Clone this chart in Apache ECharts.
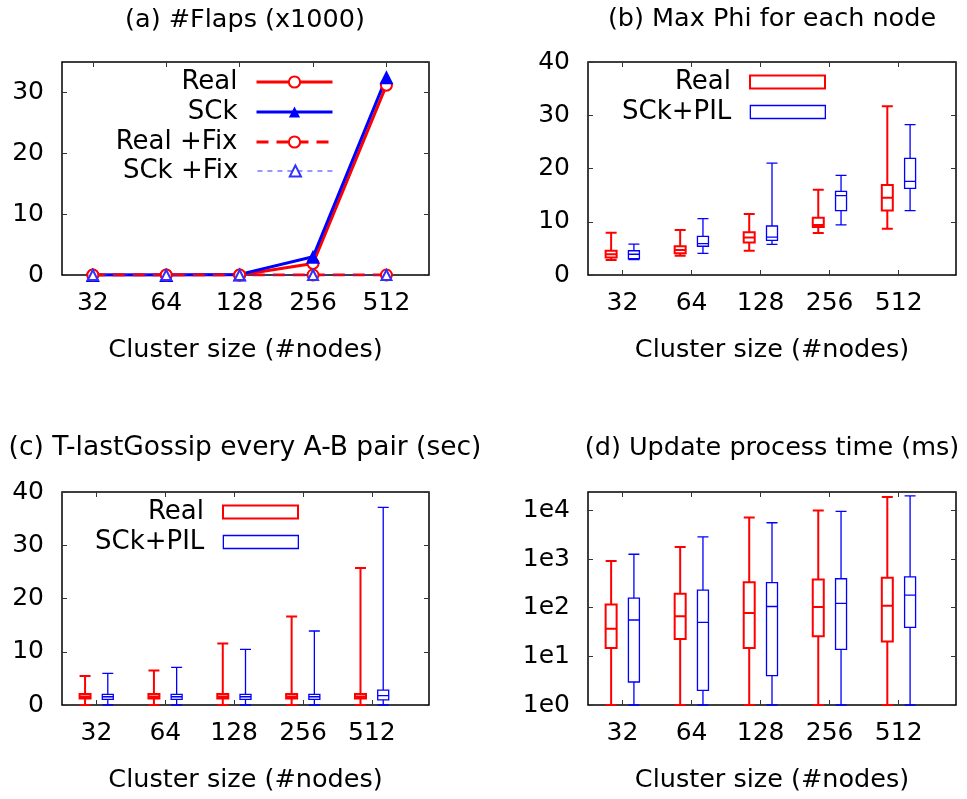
<!DOCTYPE html>
<html><head><meta charset="utf-8">
<script src="https://cdn.jsdelivr.net/npm/echarts@6/dist/echarts.min.js"></script>
<style>html,body{margin:0;padding:0;background:#fff}#c{width:967px;height:799px}</style>
</head><body><div id="c"></div>
<script>
// ---- data ----
const categories = ['32', '64', '128', '256', '512'];
// (a) #Flaps (x1000)
const flapsReal    = [0, 0, 0, 1.9, 31.2];
const flapsSCk     = [0, 0, 0.1, 3.0, 32.5];
const flapsRealFix = [0, 0, 0, 0, 0];
const flapsSCkFix  = [0, 0, 0, 0, 0];
// (b) Max Phi for each node  [min, Q1, median, Q3, max]
const phiReal = [[2.8, 3.3, 3.9, 4.55, 7.95], [3.6, 4.1, 4.7, 5.4, 8.45], [4.55, 6.1, 7.05, 8.05, 11.45], [7.9, 9.0, 9.4, 10.75, 16.0], [8.7, 12.1, 14.5, 16.9, 31.7]];
const phiSCk  = [[2.9, 3.05, 3.9, 4.55, 5.8], [4.05, 5.4, 5.9, 7.25, 10.6], [5.75, 6.5, 7.1, 9.2, 21.0], [9.4, 12.1, 14.9, 15.7, 18.7], [12.1, 16.25, 17.6, 21.9, 28.25]];
// (c) T-lastGossip every A-B pair (sec)
const gossipReal = [[0, 1.2, 1.6, 2.05, 5.45], [0, 1.2, 1.6, 2.05, 6.5], [0, 1.2, 1.6, 2.05, 11.55], [0, 1.2, 1.6, 2.05, 16.6], [0, 1.2, 1.6, 2.05, 25.75]];
const gossipSCk  = [[0, 1.05, 1.55, 2.0, 5.95], [0, 1.05, 1.55, 2.0, 7.05], [0, 1.05, 1.55, 2.0, 10.45], [0, 1.05, 1.55, 2.0, 13.9], [0, 0.95, 1.75, 2.8, 37.1]];
// (d) Update process time (ms)
const updReal = [[1, 14.8, 37, 117, 910], [1, 22.7, 67, 193, 1770], [1, 14.8, 78, 336, 7200], [1, 25.8, 103, 381, 10000], [1, 20.3, 110, 414, 19000]];
const updSCk  = [[1, 2.97, 56, 158, 1260], [1, 2.0, 50, 230, 2870], [1, 4.0, 106, 327, 5600], [1, 13.9, 123, 395, 9600], [1, 39.4, 182, 433, 20000]];
const titles = ['(a) #Flaps (x1000)', '(b) Max Phi for each node', '(c) T-lastGossip every A-B pair (sec)', '(d) Update process time (ms)'];
const xName = 'Cluster size (#nodes)';

// ---- style ----
const FONT = 'DejaVu Sans';
const RED = '#ff0000', BLUE = '#0000ff';
const TICKS = [0, 1, 2, 3, 4];
const grids = [
  {left: 62, top: 62, width: 367, height: 213},
  {left: 588, top: 62, width: 368, height: 213},
  {left: 62, top: 492, width: 367, height: 213},
  {left: 588, top: 492, width: 368, height: 213}
];
const xRanges = [[-0.42, 4.58], [-0.5, 4.83], [-0.5, 4.83], [-0.5, 4.83]];
const BOX_OFF = 0.165;

const xAxis = [], yAxis = [];
function tickStyle() { return {show: true, inside: true, length: 5, lineStyle: {color: '#333', width: 1}}; }
function addX(g) {
  const [mn, mx] = xRanges[g];
  xAxis.push({type: 'value', gridIndex: g, min: mn, max: mx, position: 'bottom',
    axisLine: {show: false, onZero: false}, splitLine: {show: false},
    axisTick: Object.assign(tickStyle(), {customValues: TICKS}),
    axisLabel: {customValues: TICKS, formatter: v => categories[Math.round(v)], fontSize: 25, fontFamily: FONT, color: '#000', margin: 16},
    name: xName, nameLocation: 'middle', nameGap: 62,
    nameTextStyle: {fontSize: 25.5, fontFamily: FONT, color: '#000'}});
  xAxis.push({type: 'value', gridIndex: g, min: mn, max: mx, position: 'top',
    axisLine: {show: false, onZero: false}, splitLine: {show: false},
    axisTick: Object.assign(tickStyle(), {customValues: TICKS}),
    axisLabel: {show: false}});
}
function addHiddenX(g, off) {
  const [mn, mx] = xRanges[g];
  xAxis.push({type: 'value', gridIndex: g, min: mn + off, max: mx + off, show: false,
    axisLine: {onZero: false}});
  return xAxis.length - 1;
}
function addY(g, cfg) {
  const base = Object.assign({gridIndex: g, axisLine: {show: false, onZero: false}, splitLine: {show: false},
    axisTick: tickStyle()}, cfg);
  yAxis.push(Object.assign({}, base, {position: 'left',
    axisLabel: Object.assign({fontSize: 25, fontFamily: FONT, color: '#000', margin: 18, showMaxLabel: cfg.type === 'log' ? false : true}, cfg.label || {})}));
  yAxis.push(Object.assign({}, base, {position: 'right', axisLabel: {show: false}}));
  return yAxis.length - 2;
}

// axes
addX(0);                       // x 0,1
addX(1); const bR = addHiddenX(1, BOX_OFF), bB = addHiddenX(1, -BOX_OFF);
addX(2); const cR = addHiddenX(2, BOX_OFF), cB = addHiddenX(2, -BOX_OFF);
addX(3); const dR = addHiddenX(3, BOX_OFF), dB = addHiddenX(3, -BOX_OFF);
const yA = addY(0, {type: 'value', min: 0, max: 35, interval: 10, label: {showMaxLabel: false}});
const yB = addY(1, {type: 'value', min: 0, max: 40, interval: 10});
const yC = addY(2, {type: 'value', min: 0, max: 40, interval: 10});
const yD = addY(3, {type: 'log', logBase: 10, min: 1, max: 24000,
  label: {showMaxLabel: false, formatter: v => '1e' + Math.round(Math.log10(v))}});

const series = [];
function lineSeries(name, vals, color, width, dash, symbol, size, bw) {
  series.push({type: 'line', name, xAxisIndex: 0, yAxisIndex: yA, silent: true,
    data: vals.map((v, i) => [i, v]), symbol, symbolSize: size,
    lineStyle: {color, width, type: dash}, itemStyle: {color, borderWidth: bw},
    emphasis: {disabled: true}});
}
lineSeries('a:Real', flapsReal, RED, 3, 'solid', 'emptyCircle', 11, 2.5);
lineSeries('a:SCk', flapsSCk, BLUE, 3, 'solid', 'triangle', 14, 0);
lineSeries('a:Real +Fix', flapsRealFix, RED, 3, [12, 8], 'emptyCircle', 11, 2.5);
lineSeries('a:SCk +Fix', flapsSCkFix, '#3030ff', 1.2, [5, 5], 'emptyTriangle', 10, 1);

function boxSeries(name, vals, xi, yi, color, bw) {
  series.push({type: 'boxplot', name, xAxisIndex: xi, yAxisIndex: yi, silent: true,
    boxWidth: [11, 11], data: vals.map((d, i) => [i].concat(d)),
    itemStyle: {color: '#fff', borderColor: color, borderWidth: bw},
    emphasis: {disabled: true}});
}
boxSeries('b:Real', phiReal, bR, yB, RED, 2);
boxSeries('b:SCk+PIL', phiSCk, bB, yB, BLUE, 1.3);
boxSeries('c:Real', gossipReal, cR, yC, RED, 2);
boxSeries('c:SCk+PIL', gossipSCk, cB, yC, BLUE, 1.3);
boxSeries('d:Real', updReal, dR, yD, RED, 2);
boxSeries('d:SCk+PIL', updSCk, dB, yD, BLUE, 1.3);

// legends: one per entry, right-aligned text, icon on the right
const legend = [];
function addLegend(name, right, cy, extra) {
  legend.push(Object.assign({data: [name], right, top: cy - 13, align: 'right', orient: 'vertical',
    padding: 0, selectedMode: false, itemWidth: 76, itemHeight: 14,
    formatter: n => n.slice(2),
    textStyle: {fontSize: 26, fontFamily: FONT, color: '#000', padding: [0, 14, 0, 0]}}, extra));
}
addLegend('a:Real', 633, 82, {lineStyle: {width: 3}});
addLegend('a:SCk', 633, 112, {lineStyle: {width: 3}});
addLegend('a:Real +Fix', 633, 142, {lineStyle: {width: 3}});
addLegend('a:SCk +Fix', 633, 171, {lineStyle: {width: 1.2}});
function boxLegend(name, right, cy, color, bw) {
  addLegend(name, right, cy, {icon: 'rect', itemWidth: 75, itemHeight: 13,
    itemStyle: {color: '#fff', borderColor: color, borderWidth: bw}});
}
boxLegend('b:Real', 141, 82, RED, 2);
boxLegend('b:SCk+PIL', 141, 112, BLUE, 1.3);
boxLegend('c:Real', 668, 512, RED, 2);
boxLegend('c:SCk+PIL', 668, 542, BLUE, 1.3);

const titleCfg = [[245, 7], [772, 6], [245, 435], [772, 435]];
const title = titles.map((t, i) => ({text: t, left: titleCfg[i][0], top: titleCfg[i][1], textAlign: 'center', padding: 0,
  textStyle: {fontSize: i === 2 ? 26.5 : 25.5, fontWeight: 'normal', fontFamily: FONT, color: '#000'}}));

const option = {
  animation: false,
  backgroundColor: '#fff',
  textStyle: {fontFamily: FONT},
  title,
  legend,
  grid: grids.map(g => Object.assign({show: true, borderColor: '#000', borderWidth: 1.5, backgroundColor: 'transparent', containLabel: false, outerBoundsMode: 'none'}, g)),
  xAxis, yAxis, series
};
const chart = echarts.init(document.getElementById('c'), null, {renderer: 'canvas'});
chart.setOption(option);
</script></body></html>
